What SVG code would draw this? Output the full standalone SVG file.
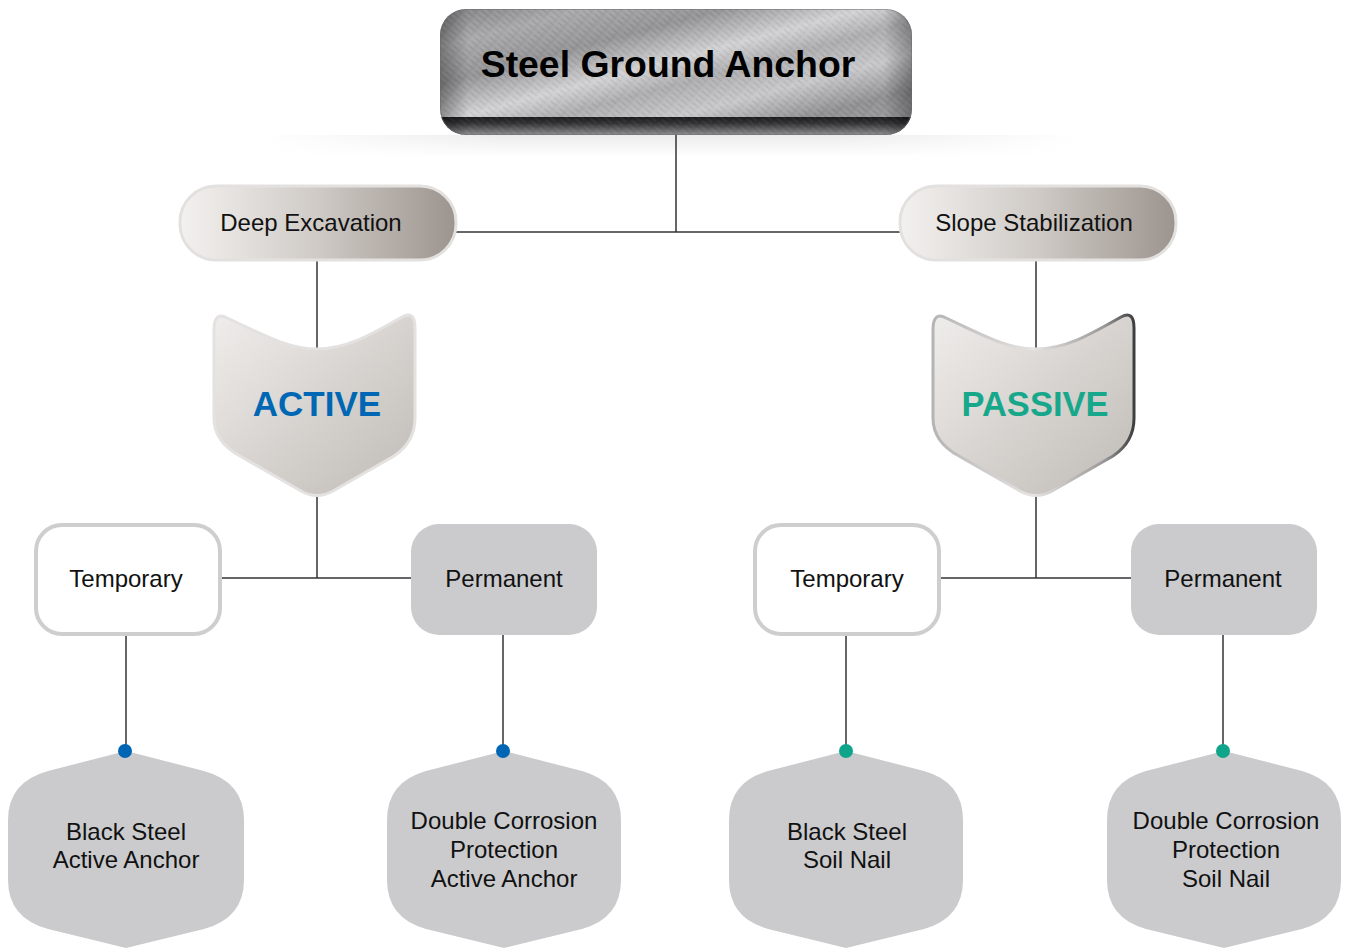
<svg xmlns="http://www.w3.org/2000/svg" width="1348" height="949" viewBox="0 0 1348 949">
<defs>
<style>
.lbl{font-family:"Liberation Sans",Arial,sans-serif;font-size:24px;fill:#111;text-anchor:middle}
.conn line{stroke:#333;stroke-width:1.5}
.pill{stroke:#e3e1df;stroke-width:3}
.bottom{fill:#cbcbcd}
.perm{fill:#cbcbcd}
.temp{fill:#fff;stroke:#cecece;stroke-width:4}
</style>
<linearGradient id="steel" x1="0" y1="0" x2="1" y2="1">
<stop offset="0" stop-color="#7e7e80"/>
<stop offset="0.15" stop-color="#a9a9ab"/>
<stop offset="0.3" stop-color="#949496"/>
<stop offset="0.45" stop-color="#d2d2d4"/>
<stop offset="0.55" stop-color="#adadaf"/>
<stop offset="0.68" stop-color="#c8c8ca"/>
<stop offset="0.82" stop-color="#909092"/>
<stop offset="1" stop-color="#a5a5a7"/>
</linearGradient>
<pattern id="brush" width="11" height="5" patternUnits="userSpaceOnUse" patternTransform="rotate(40)">
<line x1="0" y1="1" x2="8" y2="1" stroke="#fff" stroke-opacity="0.14" stroke-width="1"/>
<line x1="3" y1="3.5" x2="11" y2="3.5" stroke="#000" stroke-opacity="0.07" stroke-width="1"/>
</pattern>
<linearGradient id="band" x1="0" y1="0" x2="0" y2="1">
<stop offset="0" stop-color="#1b1b1d"/>
<stop offset="0.35" stop-color="#333336"/>
<stop offset="1" stop-color="#8d8d90"/>
</linearGradient>
<linearGradient id="bandSide" x1="0" y1="0" x2="1" y2="0">
<stop offset="0" stop-color="#000" stop-opacity="0.3"/>
<stop offset="0.06" stop-color="#000" stop-opacity="0"/>
<stop offset="0.94" stop-color="#000" stop-opacity="0"/>
<stop offset="1" stop-color="#000" stop-opacity="0.3"/>
</linearGradient>
<clipPath id="topClip"><rect x="440" y="9" width="472" height="126" rx="26"/></clipPath>
<linearGradient id="shadowH" x1="0" y1="0" x2="1" y2="0">
<stop offset="0" stop-color="#fff"/>
<stop offset="0.3" stop-color="#ececec"/>
<stop offset="0.7" stop-color="#ececec"/>
<stop offset="1" stop-color="#fff"/>
</linearGradient>
<linearGradient id="shadowV" x1="0" y1="0" x2="0" y2="1">
<stop offset="0" stop-color="#fff" stop-opacity="1"/>
<stop offset="1" stop-color="#fff" stop-opacity="0"/>
</linearGradient>
<mask id="shadowMask"><rect x="260" y="135" width="820" height="22" fill="url(#shadowV)"/></mask>
<linearGradient id="pillGrad" x1="0" y1="0" x2="1" y2="0">
<stop offset="0" stop-color="#f3f1ef"/>
<stop offset="0.5" stop-color="#cfcac6"/>
<stop offset="1" stop-color="#9c948e"/>
</linearGradient>
<linearGradient id="shieldGrad" x1="0" y1="0" x2="1" y2="1">
<stop offset="0" stop-color="#efedeb"/>
<stop offset="1" stop-color="#bfbab5"/>
</linearGradient>
<linearGradient id="passiveStroke" x1="0" y1="0" x2="1" y2="0">
<stop offset="0" stop-color="#b5b3b3"/>
<stop offset="0.5" stop-color="#e6e4e2"/>
<stop offset="0.85" stop-color="#9a9898"/>
<stop offset="1" stop-color="#3e3e40"/>
</linearGradient>
</defs>

<rect width="1348" height="949" fill="#fff"/>

<g id="shadow"><rect x="260" y="135" width="820" height="22" fill="url(#shadowH)" mask="url(#shadowMask)"/></g>

<g class="conn" id="connectors">
<line x1="676" y1="135" x2="676" y2="232"/>
<line x1="456" y1="232" x2="900" y2="232"/>
<line x1="317" y1="260" x2="317" y2="349"/>
<line x1="1036" y1="260" x2="1036" y2="349"/>
<line x1="317" y1="496" x2="317" y2="578"/>
<line x1="221" y1="578" x2="411" y2="578"/>
<line x1="1036" y1="496" x2="1036" y2="578"/>
<line x1="941" y1="578" x2="1131" y2="578"/>
<line x1="126" y1="636" x2="126" y2="751"/>
<line x1="503" y1="635" x2="503" y2="751"/>
<line x1="846" y1="636" x2="846" y2="751"/>
<line x1="1223" y1="635" x2="1223" y2="751"/>
</g>

<g id="root">
<g clip-path="url(#topClip)">
<rect x="440" y="9" width="472" height="126" fill="url(#steel)"/>
<rect x="440" y="9" width="472" height="126" fill="url(#brush)"/>
<rect x="440" y="117" width="472" height="18" fill="url(#band)"/>
<rect x="440" y="117" width="472" height="18" fill="url(#brush)" opacity="0.6"/>
<rect x="440" y="9" width="472" height="126" fill="url(#bandSide)"/>
</g>
<rect x="440.5" y="9.5" width="471" height="125" rx="26" fill="none" stroke="#6a6a6c" stroke-opacity="0.5"/>
<text x="668" y="77" font-family="'Liberation Sans',Arial,sans-serif" font-size="37.4" font-weight="bold" fill="#000" text-anchor="middle">Steel Ground Anchor</text>
</g>

<g id="deep-excavation">
<rect class="pill" x="180" y="186" width="276" height="74" rx="36" fill="url(#pillGrad)"/>
<text class="lbl" x="311" y="231">Deep Excavation</text>
</g>
<g id="slope-stabilization">
<rect class="pill" x="900" y="186" width="276" height="74" rx="36" fill="url(#pillGrad)"/>
<text class="lbl" x="1034" y="231">Slope Stabilization</text>
</g>

<g id="active">
<path d="M227,318 C262,334 287,349 317,349 C347,349 372,334 402,317 Q415,310 415,328 L415,418 Q415,442 394,456 L333,491 Q317,500 301,491 L240,456 Q214,442 214,418 L214,330 Q214,311 227,318 Z" fill="url(#shieldGrad)" stroke="#e4e2e0" stroke-width="3"/>
<text x="317" y="416" font-family="'Liberation Sans',Arial,sans-serif" font-size="35" font-weight="bold" fill="#0067b4" text-anchor="middle">ACTIVE</text>
</g>
<g id="passive">
<path d="M946,318 C981,334 1006,349 1036,349 C1066,349 1091,334 1121,317 Q1134,310 1134,328 L1134,418 Q1134,442 1113,456 L1052,491 Q1036,500 1020,491 L959,456 Q933,442 933,418 L933,330 Q933,311 946,318 Z" fill="url(#shieldGrad)" stroke="url(#passiveStroke)" stroke-width="3"/>
<text x="1035" y="416" font-family="'Liberation Sans',Arial,sans-serif" font-size="34.5" font-weight="bold" fill="#17a88b" text-anchor="middle">PASSIVE</text>
</g>

<g id="temporary-left">
<rect class="temp" x="36" y="525" width="184" height="109" rx="26"/>
<text class="lbl" x="126" y="587">Temporary</text>
</g>
<g id="permanent-left">
<rect class="perm" x="411" y="524" width="186" height="111" rx="28"/>
<text class="lbl" x="504" y="587">Permanent</text>
</g>
<g id="temporary-right">
<rect class="temp" x="755" y="525" width="184" height="109" rx="26"/>
<text class="lbl" x="847" y="587">Temporary</text>
</g>
<g id="permanent-right">
<rect class="perm" x="1131" y="524" width="186" height="111" rx="28"/>
<text class="lbl" x="1223" y="587">Permanent</text>
</g>

<g id="black-steel-active">
<path class="bottom" d="M126,751 L48,771 Q8,782 8,820 L8,880 Q8,918 48,929 L126,948 L204,929 Q244,918 244,880 L244,820 Q244,782 204,771 Z"/>
<circle cx="125" cy="751" r="7" fill="#0065b3"/>
<text class="lbl" x="126" y="840">Black Steel</text>
<text class="lbl" x="126" y="868">Active Anchor</text>
</g>
<g id="dcp-active">
<path class="bottom" d="M504,751 L426,771 Q387,782 387,820 L387,880 Q387,918 426,929 L504,948 L582,929 Q621,918 621,880 L621,820 Q621,782 582,771 Z"/>
<circle cx="503" cy="751" r="7" fill="#0065b3"/>
<text class="lbl" x="504" y="829">Double Corrosion</text>
<text class="lbl" x="504" y="858">Protection</text>
<text class="lbl" x="504" y="887">Active Anchor</text>
</g>
<g id="black-steel-soil-nail">
<path class="bottom" d="M846,751 L768,771 Q729,782 729,820 L729,880 Q729,918 768,929 L846,948 L924,929 Q963,918 963,880 L963,820 Q963,782 924,771 Z"/>
<circle cx="846" cy="751" r="7" fill="#10a58a"/>
<text class="lbl" x="847" y="840">Black Steel</text>
<text class="lbl" x="847" y="868">Soil Nail</text>
</g>
<g id="dcp-soil-nail">
<path class="bottom" d="M1224,751 L1146,771 Q1107,782 1107,820 L1107,880 Q1107,918 1146,929 L1224,948 L1302,929 Q1341,918 1341,880 L1341,820 Q1341,782 1302,771 Z"/>
<circle cx="1223" cy="751" r="7" fill="#10a58a"/>
<text class="lbl" x="1226" y="829">Double Corrosion</text>
<text class="lbl" x="1226" y="858">Protection</text>
<text class="lbl" x="1226" y="887">Soil Nail</text>
</g>
</svg>
